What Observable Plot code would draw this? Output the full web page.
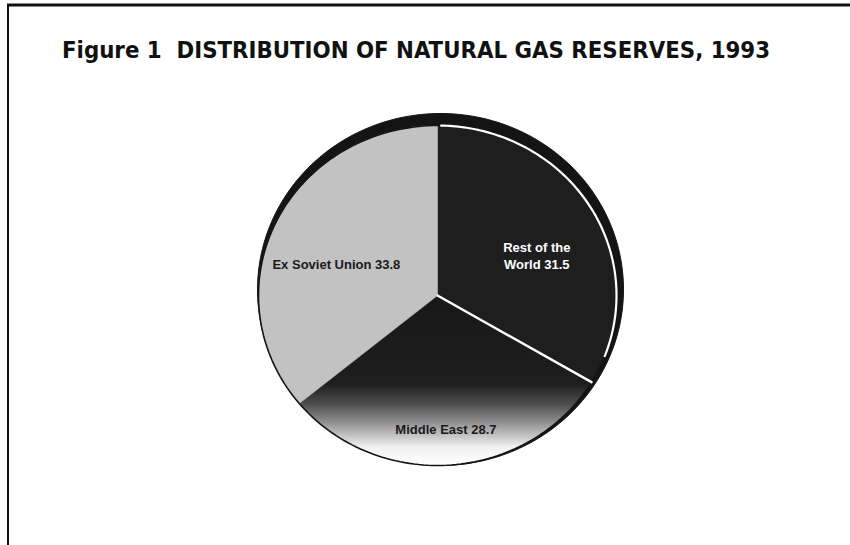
<!DOCTYPE html>
<html>
<head>
<meta charset="utf-8">
<script src="https://cdn.jsdelivr.net/npm/d3@7"></script>
<script src="https://cdn.jsdelivr.net/npm/@observablehq/plot@0.6"></script>
<style>
  html, body { margin: 0; padding: 0; background: #fff; }
  #chart svg { display: block; }
</style>
</head>
<body>
<div id="chart"></div>
<script>
// ---- data ----
const regions = ["Rest of the World", "Middle East", "Ex Soviet Union"];
const shares = [31.5, 28.7, 33.8];
const labelTexts = ["Rest of the\nWorld 31.5", "Middle East 28.7", "Ex Soviet Union 33.8"];
const titleText = "Figure 1  DISTRIBUTION OF NATURAL GAS RESERVES, 1993";

// ---- style / layout ----
const W = 850, H = 545;
const cx = 437, cy = 295, rx = 179, ry = 170;
const sliceFill = ["#1e1e1e", "url(#meGrad)", "#c2c2c2"];
const labelColor = ["#ffffff", "#1a1a1a", "#1a1a1a"];
const labelRadius = [0.6, 0.76, 0.6];
const labelDx = [6, -2, -4];
const labelDy = [10, 4, 12];

const arcs = d3.pie().sort(null)(shares);

function arcPoints(a0, a1, sx = 1, sy = 1, ox = 0, oy = 0, n = 90) {
  const pts = [];
  for (let i = 0; i <= n; i++) {
    const a = a0 + (a1 - a0) * i / n;
    pts.push({x: ox + sx * Math.sin(a), y: oy - sy * Math.cos(a)});
  }
  return pts;
}

const slicePolys = arcs.map(a => [{x: 0, y: 0}, ...arcPoints(a.startAngle, a.endAngle), {x: 0, y: 0}]);
const fullRim = arcPoints(0, 2 * Math.PI, 1, 1, 0, 0, 240);
const backRim = arcPoints(0, 2 * Math.PI, 183 / rx, 176 / ry, 3 / rx, -6 / ry, 240);
const rowArc = arcs[0];
const whiteArc = arcPoints(rowArc.startAngle + 0.02, rowArc.endAngle - 0.17, 1.0, 1.0, 0, 0, 120);
const boundary = [{x: 0, y: 0}, {x: Math.sin(rowArc.endAngle), y: -Math.cos(rowArc.endAngle)}];

const labels = arcs.map((a, i) => {
  const m = (a.startAngle + a.endAngle) / 2;
  return {text: labelTexts[i], x: labelRadius[i] * Math.sin(m), y: -labelRadius[i] * Math.cos(m), i};
});

const defsMark = () => {
  const svg = d3.create("svg:defs");
  const g = svg.append("linearGradient").attr("id", "meGrad")
    .attr("x1", 0).attr("y1", 0).attr("x2", 0).attr("y2", 1);
  [[0, "#181818"], [0.52, "#1e1e1e"], [0.64, "#4e4e4e"], [0.78, "#a6a6a6"], [0.89, "#f0f0f0"], [1, "#ffffff"]]
    .forEach(([o, c]) => g.append("stop").attr("offset", o).attr("stop-color", c));
  return svg.node();
};

const decoMark = () => {
  const g = d3.create("svg:g");
  g.append("line").attr("x1", 7).attr("x2", W).attr("y1", 5).attr("y2", 5)
    .attr("stroke", "#111").attr("stroke-width", 3);
  g.append("line").attr("x1", 8).attr("x2", 8).attr("y1", 4).attr("y2", H)
    .attr("stroke", "#111").attr("stroke-width", 2);
  g.append("text").attr("class", "fig-title").attr("x", 62).attr("y", 58)
    .attr("text-anchor", "start")
    .attr("font-family", "'Liberation Sans Narrow', 'DejaVu Sans Condensed', 'Arial Narrow', sans-serif")
    .attr("font-weight", "bold").attr("font-size", 27).attr("fill", "#111")
    .text(titleText);
  return g.node();
};

const chart = Plot.plot({
  width: W,
  height: H,
  margin: 0,
  x: {domain: [-1, 1], range: [cx - rx, cx + rx], axis: null},
  y: {domain: [-1, 1], range: [cy - ry, cy + ry], axis: null},
  marks: [
    defsMark,
    decoMark,
    Plot.line(backRim, {x: "x", y: "y", fill: "#141414", stroke: "#141414", strokeWidth: 1}),
    ...slicePolys.map((p, i) => Plot.line(p, {
      x: "x", y: "y", fill: sliceFill[i],
      stroke: i === 1 ? "none" : sliceFill[i], strokeWidth: 0.6
    })),
    Plot.line(fullRim, {x: "x", y: "y", stroke: "#141414", strokeWidth: 1.6}),
    Plot.line(whiteArc, {x: "x", y: "y", stroke: "#ffffff", strokeWidth: 2.2}),
    Plot.line(boundary, {x: "x", y: "y", stroke: "#ffffff", strokeWidth: 2.4}),
    Plot.text(labels, {
      x: "x", y: "y", text: "text",
      fill: d => labelColor[d.i],
      fontFamily: "'Liberation Sans', Arial, sans-serif",
      fontWeight: "bold", fontSize: 13, lineHeight: 1.3
    })
  ]
});

// apply per-label offsets
d3.select(chart).selectAll("text").filter(function() { return this.parentNode && this.parentNode.getAttribute("aria-label") === "text"; })
  .each(function(_, j) {
    const t = d3.select(this);
    const tr = t.attr("transform") || "";
    t.attr("transform", tr + ` translate(${labelDx[j]},${labelDy[j]})`);
  });

document.getElementById("chart").appendChild(chart);

// fit the title's font size so it spans the same width as in the reference
const tnode = chart.querySelector(".fig-title");
if (tnode) {
  const w = tnode.getComputedTextLength();
  if (w > 0) tnode.setAttribute("font-size", (27 * 708 / w).toFixed(2));
}
</script>
</body>
</html>
